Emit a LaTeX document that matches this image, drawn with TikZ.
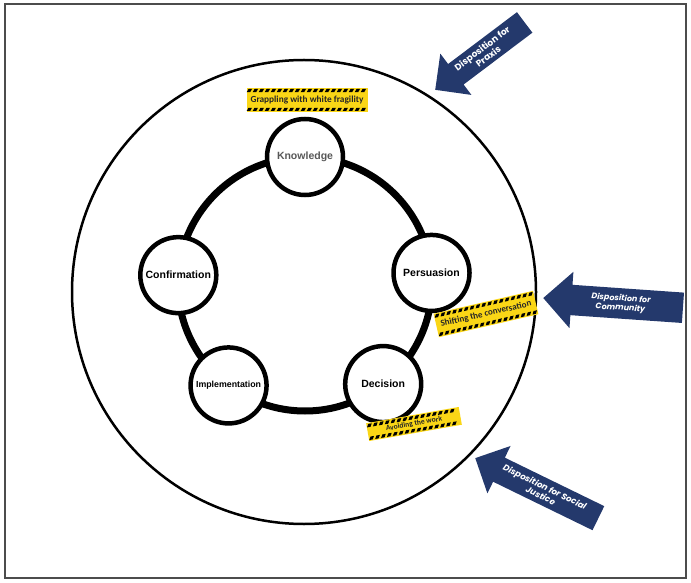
\documentclass[tikz,border=0pt]{standalone}
\usepackage{fontspec}
\usetikzlibrary{shapes.arrows}
\newfontfamily\labelfont{Liberation Sans}
\newfontfamily\tapefont{Carlito}
\newfontfamily\arrowfont{Poppins}
\definecolor{navy}{RGB}{36,57,108}
\definecolor{tapeyellow}{RGB}{250,214,22}
\definecolor{knowgray}{RGB}{88,88,88}

\tikzset{
  stage/.style={circle, draw, line width=4.5pt, fill=white, minimum size=76pt, inner sep=0pt,
    font=\labelfont\bfseries\fontsize{10.5}{12}\selectfont},
  dispo/.style={single arrow, shape border rotate=180, fill=navy, text=white, align=center,
    single arrow head extend=13pt, single arrow head indent=0pt, inner ysep=6pt, inner xsep=8pt},
  tapetext/.style={inner sep=0pt, text=black!85}
}

% Hazard tape: yellow band with slanted black dashes along both edges
% #1=name, #2=x, #3=y, #4=angle, #5=width, #6=height, #7=font size, #8=text
\newcommand{\tape}[8]{
  \begin{scope}[shift={(#2,#3)}, rotate=#4]
    \fill[tapeyellow] (-#5/2,-#6/2) rectangle (#5/2,#6/2);
    \pgfmathtruncatemacro{\nd}{#5/6-1}
    \foreach \i in {0,...,\nd} {
      \fill (-#5/2+2+6*\i, #6/2-1) -- ++(3.5,0) -- ++(-1.8,-3.2) -- ++(-3.5,0) -- cycle;
      \fill (-#5/2+2+6*\i, -#6/2+4.2) -- ++(3.5,0) -- ++(-1.8,-3.2) -- ++(-3.5,0) -- cycle;
    }
    \node[tapetext, rotate=#4, font=\tapefont\bfseries\fontsize{#7}{#7}\selectfont] (#1) at (0,0) {#8};
  \end{scope}
}

\begin{document}
\begin{tikzpicture}[x=1pt, y=1pt]
\useasboundingbox (0,0) rectangle (691,582);

% ── Frame ──
\draw[line width=1.5pt, black!70] (5,4) rectangle (686,578);

% ── Outer circle ──
\draw[line width=2.5pt] (304,290) circle (232);

% ── Cycle ──
\coordinate (hub) at (305,298);
\draw[line width=7pt] (hub) circle (127);

\node[stage, text=knowgray] (knowledge) at ([shift={(90:127)}]hub) {Knowledge};
\node[stage] (persuasion) at ([shift={(5:127)}]hub) {Persuasion};
\node[stage] (decision) at ([shift={(-52:127)}]hub) {Decision};
\node[stage, font=\labelfont\bfseries\fontsize{8.8}{10}\selectfont] (implementation) at ([shift={(-127:127)}]hub) {Implementation};
\node[stage] (confirmation) at ([shift={(176:127)}]hub) {Confirmation};

% ── Tapes ──
\tape{grappling}{307}{482}{0}{121}{24}{9.3}{Grappling with white fragility}
\tape{shifting}{486}{268}{13}{102}{24}{9}{Shifting the conversation}
\tape{avoiding}{414}{158}{10}{94}{18}{7.5}{Avoiding the work}

% ── Dispositions ──
\node[dispo, rotate=37, anchor=tip, minimum height=112pt, inner ysep=4pt,
  font=\arrowfont\bfseries\fontsize{9}{10}\selectfont] (praxis) at (435,492) {Disposition for\\Praxis};
\node[dispo, rotate=-4, anchor=tip, minimum height=140pt,
  font=\arrowfont\bfseries\itshape\fontsize{8}{9.5}\selectfont] (community) at (543,284) {Disposition for\\Community};
\node[dispo, rotate=-26, anchor=tip, minimum height=137pt, inner ysep=5pt,
  font=\arrowfont\bfseries\itshape\fontsize{8.5}{9.5}\selectfont] (justice) at (475,124) {Disposition for Social\\Justice};

\end{tikzpicture}
\end{document}
